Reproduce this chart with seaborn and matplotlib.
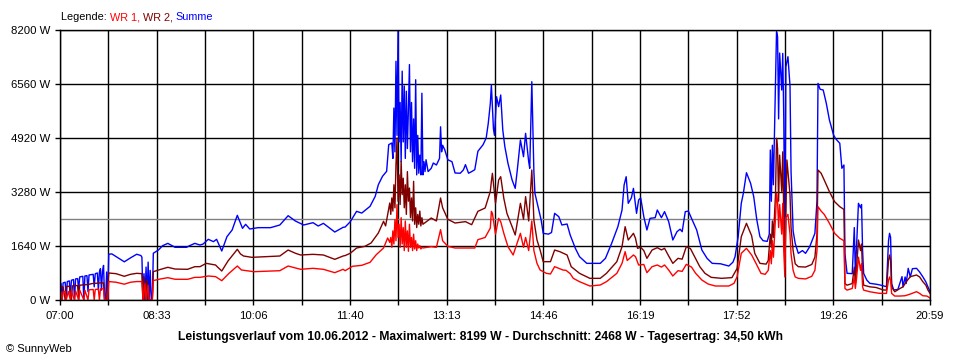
import matplotlib
matplotlib.use("Agg")
import matplotlib.pyplot as plt
import pandas as pd
import seaborn as sns

# ---- data: (minutes after 07:00, power in W) ----
summe = [
    (1, 500), (2, 0), (3, 520), (5, 540), (6, 0), (7, 560), (9, 580), (10, 100), (11, 600), (13, 620),
    (14, 0), (15, 640), (17, 650), (18, 300), (19, 700), (22, 720), (23, 0), (24, 730), (26, 740),
    (27, 250), (28, 760), (32, 780), (33, 400), (34, 800), (36, 820), (37, 300), (38, 850), (39, 950),
    (40, 300), (41, 880), (42, 1050), (43, 0), (44, 0), (45, 850), (46, 0), (47, 1390), (50, 1400),
    (56, 1280), (62, 1160), (68, 1280), (74, 1390), (78, 1350), (79, 1300), (80, 0), (81, 800), (82, 0),
    (83, 1000), (84, 0), (85, 1150), (86, 0), (87, 900), (88, 0), (89, 0), (90, 1420), (95, 1520),
    (99, 1650), (104, 1720), (108, 1650), (111, 1600), (122, 1600), (125, 1650), (130, 1720),
    (135, 1670), (138, 1700), (143, 1843), (148, 1772), (151, 1843), (156, 1488), (161, 1923),
    (166, 2126), (171, 2572), (176, 2177), (179, 2298), (183, 2156), (191, 2197), (203, 2197),
    (212, 2278), (220, 2560), (227, 2399), (235, 2278), (244, 2348), (249, 2247), (254, 2328),
    (259, 2207), (265, 2065), (273, 2207), (275, 2217), (280, 2380), (286, 2693), (291, 2640),
    (299, 2845), (304, 3149), (307, 3502), (311, 3756), (315, 3908), (317, 4717), (320, 4768),
    (321, 4300), (322, 5830), (323, 4500), (324, 7250), (325, 5000), (326, 8199), (327, 4800),
    (328, 6000), (329, 4200), (330, 6950), (331, 4800), (332, 6500), (333, 4300), (334, 6340),
    (335, 4600), (336, 5800), (337, 7150), (338, 4500), (339, 6000), (340, 4200), (341, 5500),
    (342, 4000), (343, 6690), (344, 3800), (345, 5000), (346, 3850), (347, 4400), (348, 3800),
    (349, 6280), (350, 3800), (351, 4200), (352, 3900), (353, 4260), (355, 3900), (358, 4000),
    (360, 4160), (363, 4100), (366, 4300), (367, 5260), (368, 4500), (369, 4700), (371, 4565),
    (374, 4260), (378, 4200), (381, 3857), (386, 3850), (389, 3950), (391, 4110), (394, 3850),
    (397, 3900), (400, 3958), (403, 4516), (408, 4717), (411, 4920), (413, 5366), (415, 5973),
    (416, 6530), (418, 5200), (419, 5000), (421, 6174), (423, 5872), (425, 6226), (427, 5163),
    (429, 4656), (432, 4151), (436, 3644), (439, 3391), (441, 3948), (444, 4859), (447, 4352),
    (449, 5062), (452, 4200), (453, 4000), (455, 6630), (457, 3900), (458, 3240), (461, 2834),
    (464, 2430), (466, 2025), (471, 2000), (474, 2050), (477, 2632), (481, 2531), (484, 2278),
    (489, 2308), (492, 1974), (497, 1569), (501, 1316), (508, 1113), (514, 1113), (521, 1113),
    (526, 1265), (532, 1721), (538, 2227), (542, 2733), (544, 3492), (546, 3745), (548, 2936),
    (551, 3100), (553, 3391), (556, 2632), (558, 3037), (560, 3100), (563, 2531), (566, 2126),
    (569, 2480), (574, 2500), (576, 2733), (580, 2500), (583, 2683), (587, 2379), (591, 1822),
    (595, 2075), (598, 2150), (600, 2075), (603, 2683), (606, 2700), (609, 2480), (614, 2126),
    (619, 1518), (624, 1265), (629, 1113), (637, 1100), (645, 1032), (649, 1150), (651, 1316),
    (654, 1923), (657, 2936), (659, 3240), (662, 3866), (666, 3543), (669, 3139), (672, 2430),
    (675, 1923), (678, 1802), (682, 1780), (684, 2000), (685, 4555), (686, 3000), (687, 4700),
    (688, 3500), (690, 6682), (691, 8150), (692, 8000), (693, 5500), (694, 7500), (696, 6378),
    (697, 7490), (698, 5500), (699, 1620), (700, 7085), (702, 7389), (704, 6500), (705, 3900),
    (707, 2100), (709, 1720), (712, 1417), (716, 1500), (719, 1417), (723, 1620), (728, 2025),
    (730, 3000), (731, 6580), (733, 6400), (736, 6378), (739, 5973), (742, 5467), (746, 5011),
    (748, 4900), (752, 4758), (754, 4000), (756, 4100), (757, 1400), (759, 810), (764, 800),
    (766, 2200), (767, 800), (768, 1500), (770, 2936), (772, 2800), (773, 2900), (774, 1500),
    (775, 810), (778, 607), (781, 506), (787, 480), (791, 455), (797, 404), (799, 1800), (800, 2025),
    (801, 1900), (802, 500), (804, 304), (808, 320), (812, 709), (813, 400), (815, 700), (816, 500),
    (818, 962), (820, 700), (822, 950), (826, 962), (829, 850), (832, 709), (835, 550), (837, 404),
    (839, 250),
]

wr2 = [
    (1, 380), (3, 400), (5, 0), (6, 410), (9, 420), (11, 0), (12, 430), (17, 440), (18, 0), (19, 450),
    (27, 470), (31, 500), (36, 510), (39, 520), (42, 520), (43, 0), (45, 0), (47, 820), (54, 800),
    (62, 720), (68, 780), (74, 810), (79, 800), (80, 0), (81, 700), (82, 0), (84, 600), (85, 0),
    (89, 0), (90, 860), (97, 930), (104, 993), (111, 940), (123, 932), (130, 1012), (135, 1012),
    (141, 1113), (150, 1063), (152, 1000), (156, 880), (162, 1184), (171, 1539), (174, 1400),
    (177, 1336), (185, 1296), (199, 1316), (212, 1336), (220, 1518), (227, 1420), (232, 1367),
    (244, 1387), (254, 1367), (265, 1235), (273, 1336), (275, 1350), (280, 1420), (286, 1579),
    (294, 1630), (300, 1731), (307, 2035), (312, 2389), (314, 2250), (318, 2946), (319, 2600),
    (320, 3100), (321, 2700), (322, 3500), (323, 2800), (324, 4110), (325, 4920), (326, 3000),
    (327, 3800), (328, 2900), (329, 4212), (330, 3200), (331, 3700), (332, 2800), (333, 3500),
    (334, 2600), (335, 3900), (336, 3000), (337, 3400), (338, 2500), (339, 3100), (340, 2400),
    (341, 3604), (342, 2300), (343, 2800), (344, 2200), (345, 2600), (346, 2300), (347, 2700),
    (348, 2250), (349, 2500), (350, 2300), (358, 2490), (363, 2400), (367, 3098), (369, 2800),
    (374, 2450), (381, 2338), (391, 2380), (397, 2287), (403, 2693), (410, 2794), (415, 3300),
    (416, 3604), (417, 3847), (420, 2936), (423, 3644), (425, 3745), (428, 3088), (431, 2632),
    (436, 2227), (439, 1974), (444, 2936), (447, 2450), (449, 3139), (452, 2400), (455, 3948),
    (457, 2430), (460, 1822), (463, 1518), (466, 1164), (473, 1164), (477, 1518), (482, 1468),
    (489, 1367), (493, 1012), (501, 810), (511, 658), (521, 658), (527, 810), (537, 1164),
    (542, 1620), (545, 2227), (548, 1822), (553, 2025), (555, 1873), (557, 1569), (560, 1600),
    (563, 1500), (566, 1265), (571, 1518), (576, 1589), (580, 1520), (583, 1570), (587, 1336),
    (591, 1113), (596, 1265), (600, 1240), (604, 1620), (608, 1560), (612, 1316), (617, 1012),
    (622, 810), (628, 688), (638, 658), (648, 680), (653, 962), (657, 1923), (662, 2329),
    (667, 1950), (670, 1417), (675, 1113), (681, 1090), (683, 1200), (685, 2000), (686, 1600),
    (687, 2400), (688, 1900), (690, 3200), (691, 4910), (692, 4600), (693, 3000), (694, 4400),
    (696, 3300), (697, 4500), (698, 2500), (699, 1000), (701, 4252), (702, 3900), (704, 3200),
    (705, 2200), (707, 1500), (709, 1100), (712, 1012), (719, 1000), (725, 1080), (728, 1300),
    (730, 2000), (731, 3948), (734, 3850), (737, 3644), (742, 3290), (747, 2986), (752, 2834),
    (756, 2750), (757, 500), (759, 450), (764, 500), (766, 1000), (767, 500), (768, 900),
    (770, 1822), (772, 1500), (773, 1700), (774, 800), (775, 450), (781, 400), (787, 380),
    (794, 304), (797, 300), (799, 1200), (800, 1367), (801, 1200), (802, 400), (805, 250),
    (810, 350), (813, 400), (816, 550), (820, 709), (826, 759), (829, 700), (832, 560), (835, 450),
    (837, 304), (839, 200),
]

wr1 = [
    (1, 250), (2, 0), (3, 250), (5, 260), (6, 0), (8, 260), (10, 0), (11, 270), (14, 0), (15, 280),
    (18, 0), (19, 300), (23, 0), (24, 300), (27, 0), (28, 310), (32, 320), (33, 0), (34, 320),
    (37, 330), (38, 0), (39, 340), (42, 340), (43, 0), (46, 0), (47, 560), (54, 540), (62, 480),
    (68, 540), (74, 560), (79, 560), (80, 0), (82, 500), (83, 0), (85, 450), (86, 0), (89, 0),
    (90, 590), (97, 640), (104, 678), (111, 630), (123, 628), (130, 688), (135, 688), (143, 729),
    (150, 710), (156, 587), (163, 810), (171, 1032), (175, 911), (187, 860), (212, 890), (220, 1032),
    (232, 932), (244, 962), (254, 932), (265, 830), (273, 932), (275, 890), (282, 1023), (291, 1053),
    (299, 1144), (305, 1377), (312, 1579), (316, 1883), (318, 1750), (319, 1900), (320, 1600),
    (321, 2100), (322, 1700), (323, 2440), (324, 1800), (325, 2896), (326, 1900), (327, 2300),
    (328, 1600), (329, 2500), (330, 1700), (331, 2200), (332, 1500), (333, 2400), (334, 1600),
    (335, 2100), (336, 1478), (337, 2300), (338, 1600), (339, 1900), (340, 1500), (341, 2000),
    (342, 1550), (343, 1800), (344, 1500), (345, 1700), (346, 1579), (347, 1650), (348, 1550),
    (349, 1600), (350, 1580), (358, 1620), (363, 1600), (367, 2136), (369, 1800), (374, 1630),
    (381, 1579), (400, 1579), (403, 1832), (410, 1900), (415, 2186), (416, 2693), (417, 2632),
    (420, 2000), (423, 2480), (425, 2379), (428, 2025), (432, 1620), (437, 1367), (444, 2025),
    (447, 1600), (449, 1900), (452, 1500), (455, 2400), (457, 1500), (460, 1113), (463, 911),
    (469, 810), (473, 790), (477, 1012), (485, 911), (488, 900), (492, 800), (495, 658), (501, 557),
    (511, 425), (521, 455), (527, 557), (537, 810), (542, 1113), (545, 1468), (547, 1200),
    (553, 1367), (555, 1316), (558, 1063), (563, 1080), (566, 830), (571, 1012), (576, 1063),
    (580, 1000), (583, 1063), (587, 911), (591, 729), (596, 890), (600, 870), (604, 1083),
    (609, 1000), (613, 810), (619, 607), (625, 486), (632, 425), (645, 425), (650, 506), (653, 709),
    (657, 1417), (662, 1569), (667, 1367), (672, 1063), (676, 810), (680, 780), (683, 900),
    (685, 1500), (686, 1100), (687, 1800), (688, 1300), (690, 2500), (691, 3240), (692, 3000),
    (693, 2200), (694, 2900), (696, 2000), (697, 2936), (698, 1500), (699, 700), (700, 2500),
    (702, 2600), (704, 2000), (705, 1400), (707, 900), (709, 700), (712, 658), (719, 640),
    (725, 720), (728, 900), (730, 1500), (731, 2834), (734, 2700), (737, 2600), (742, 2329),
    (747, 2025), (752, 1873), (756, 1800), (757, 350), (759, 300), (764, 350), (766, 700),
    (767, 350), (768, 600), (770, 1300), (772, 900), (773, 1100), (774, 400), (775, 300),
    (781, 250), (790, 203), (797, 200), (799, 600), (800, 700), (801, 600), (802, 200), (805, 120),
    (810, 120), (815, 130), (820, 180), (826, 253), (829, 200), (832, 130), (836, 120), (839, 60),
]

average_w = 2468
x_tick_labels = ["07:00", "08:33", "10:06", "11:40", "13:13", "14:46", "16:19", "17:52", "19:26", "20:59"]
y_ticks = [0, 1640, 3280, 4920, 6560, 8200]
series_names = ["Summe", "WR 2", "WR 1"]
series_colors = {"WR 1": "#ff0000", "WR 2": "#800000", "Summe": "#0000ff"}
title = ("Leistungsverlauf vom 10.06.2012 - Maximalwert: 8199 W - "
         "Durchschnitt: 2468 W - Tagesertrag: 34,50 kWh")

# ---- build long table ----
frames = []
for name, pts in (("Summe", summe), ("WR 2", wr2), ("WR 1", wr1)):
    d = pd.DataFrame(pts, columns=["min", "W"])
    d["Serie"] = name
    frames.append(d)
df = pd.concat(frames, ignore_index=True)

sns.set_style("white")
plt.rcParams["font.family"] = ["Liberation Sans", "DejaVu Sans"]
plt.rcParams["font.size"] = 8

fig = plt.figure(figsize=(9.6, 3.6), dpi=100)
fig.patch.set_facecolor("white")
ax = fig.add_axes([60 / 960, 60 / 360, 870 / 960, 270 / 360])

ax.axhline(average_w, color="#808080", lw=1, zorder=1.5)
sns.lineplot(data=df, x="min", y="W", hue="Serie", hue_order=series_names,
             palette=series_colors, estimator=None, sort=False, legend=False,
             linewidth=1, ax=ax, zorder=2)

total = 839
xt = [i * total / 18 for i in range(19)]
labels = []
for i in range(19):
    labels.append(x_tick_labels[i // 2] if i % 2 == 0 else "")
ax.set_xticks(xt)
ax.set_xticklabels(labels)
ax.set_yticks(y_ticks)
ax.set_yticklabels([f"{v} W" for v in y_ticks])
ax.set_xlim(0, total)
ax.set_ylim(0, 8200)
ax.set_xlabel("")
ax.set_ylabel("")

ax.grid(True, color="black", linewidth=1)
ax.set_axisbelow(True)
for s in ax.spines.values():
    s.set_color("black")
    s.set_linewidth(1)
    s.set_visible(True)
ax.tick_params(axis="both", direction="out", length=3.6, width=1, color="black",
               labelsize=8.2, labelcolor="black", bottom=True, left=True)
ax.tick_params(axis="x", pad=4.0)
ax.tick_params(axis="y", pad=3.2)

fig.text(0.5, 1 - 337 / 360, title, ha="center", va="center",
         fontsize=8.7, fontweight="bold", color="black")
fig.text(6 / 960, 1 - 349 / 360, "\u00a9 SunnyWeb", ha="left", va="center",
         fontsize=8, color="black")

# legend line at top-left
fig.canvas.draw()
renderer = fig.canvas.get_renderer()
x0 = 61 / 960
yl = 1 - 17 / 360
parts = [("Legende: ", "black"), ("WR 1, ", series_colors["WR 1"]),
         ("WR 2, ", series_colors["WR 2"]), ("Summe", series_colors["Summe"])]
for txt, col in parts:
    t = fig.text(x0, yl, txt, ha="left", va="center", fontsize=7.8, color=col)
    bb = t.get_window_extent(renderer=renderer)
    x0 += bb.width / fig.bbox.width

fig.savefig("out.png", dpi=100, facecolor="white")
